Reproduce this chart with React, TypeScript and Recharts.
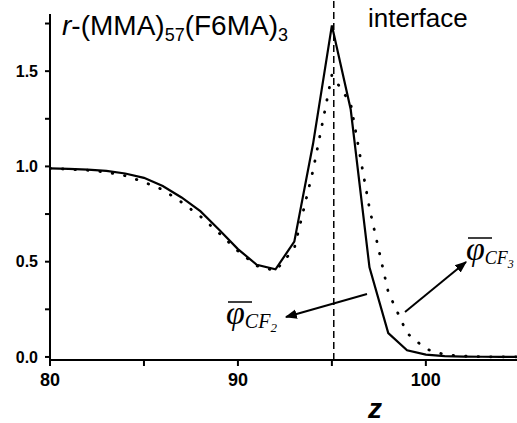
import { LineChart, Line, XAxis, YAxis, ReferenceLine } from 'recharts'

const zValues = [80, 81, 82, 83, 84, 85, 86, 87, 88, 89, 90, 91, 92, 93, 94, 95, 96, 97, 98, 99, 100, 101, 102, 103, 104, 105]
const phiCF2 = [0.99, 0.987, 0.983, 0.977, 0.963, 0.94, 0.897, 0.837, 0.765, 0.668, 0.566, 0.484, 0.46, 0.605, 1.12, 1.74, 1.3, 0.47, 0.125, 0.035, 0.012, 0.004, 0.002, 0.001, 0, 0]
const phiCF3 = [0.99, 0.985, 0.98, 0.97, 0.951, 0.918, 0.878, 0.812, 0.738, 0.65, 0.556, 0.478, 0.452, 0.57, 0.98, 1.48, 1.33, 0.78, 0.34, 0.125, 0.042, 0.012, 0.004, 0.001, 0, 0]
const xTicks = [80, 85, 90, 95, 100]
const xLabels = [80, 90, 100]
const yTicks = [0, 0.25, 0.5, 0.75, 1.0, 1.25, 1.5, 1.75]
const yLabels = [0, 0.5, 1.0, 1.5]
const interfaceZ = 95.1

const data = zValues.map((z, i) => ({ z, cf2: phiCF2[i], cf3: phiCF3[i] }))

const tickFont = { fill: '#000', fontWeight: 'bold', fontFamily: 'Arial, Liberation Sans', }

export default function App() {
  return (
    <div style={{ position: 'absolute', left: 0, top: 0, width: 517, height: 423, background: '#fff' }}>
      <LineChart width={517} height={423} data={data} margin={{ top: 14, right: 0, left: 0, bottom: 0 }}>
        <XAxis
          dataKey="z"
          type="number"
          domain={[80, 104.85]}
          allowDataOverflow
          ticks={xTicks}
          tickFormatter={(v) => (xLabels.includes(v) ? String(v) : '')}
          height={63}
          tickSize={6}
          tickMargin={7}
          stroke="#000"
          strokeWidth={2}
          tick={{ ...tickFont, fontSize: 18 }}
        />
        <YAxis
          type="number"
          domain={[-0.016, 1.8]}
          allowDataOverflow
          ticks={yTicks}
          tickFormatter={(v) => (yLabels.includes(v) ? v.toFixed(1) : '')}
          width={50}
          tickSize={5}
          tickMargin={7}
          stroke="#000"
          strokeWidth={2}
          tick={{ ...tickFont, fontSize: 16 }}
        />
        <ReferenceLine
          segment={[{ x: interfaceZ, y: -0.016 }, { x: interfaceZ, y: 1.875 }]}
          ifOverflow="visible"
          stroke="#000"
          strokeWidth={1.5}
          strokeDasharray="7 4"
        />
        <Line
          dataKey="cf3"
          type="linear"
          stroke="#000"
          strokeWidth={2.8}
          strokeDasharray="0.5 12"
          strokeLinecap="round"
          dot={false}
          isAnimationActive={false}
        />
        <Line
          dataKey="cf2"
          type="linear"
          stroke="#000"
          strokeWidth={2.2}
          dot={false}
          isAnimationActive={false}
        />
      </LineChart>
      <svg width={517} height={423} style={{ position: 'absolute', left: 0, top: 0, pointerEvents: 'none' }}>
        <defs>
          <marker id="arr" viewBox="0 0 10 10" refX="9" refY="5" markerWidth="6" markerHeight="6" orient="auto">
            <path d="M0,1 L10,5 L0,9 z" fill="#000" />
          </marker>
        </defs>
        <text x={62} y={35} fontFamily="Arial, Liberation Sans" fontSize={28} fill="#000">
          <tspan fontStyle="italic">r</tspan>
          <tspan>-(MMA)</tspan>
          <tspan fontSize={18} dy={6}>57</tspan>
          <tspan dy={-6}>(F6MA)</tspan>
          <tspan fontSize={18} dy={6}>3</tspan>
        </text>
        <text x={368} y={27} fontFamily="Arial, Liberation Sans" fontSize={26} fill="#000">interface</text>
        <text x={375} y={418} fontFamily="Arial, Liberation Sans" fontSize={28} fontWeight="bold" fontStyle="italic" fill="#000" textAnchor="middle">z</text>

        <line x1={367} y1={294} x2={286} y2={317} stroke="#000" strokeWidth={2} markerEnd="url(#arr)" />
        <line x1={405} y1={312} x2={466} y2={262} stroke="#000" strokeWidth={2} markerEnd="url(#arr)" />

        <line x1={228} y1={302} x2={252} y2={302} stroke="#000" strokeWidth={1.5} />
        <text x={226} y={324} fontFamily="Liberation Serif, Times New Roman" fontSize={34} fontStyle="italic" fill="#000">
          φ
          <tspan fontSize={20} dy={4}>CF</tspan>
          <tspan fontSize={13} dy={4}>2</tspan>
        </text>
        <line x1={468} y1={238} x2={492} y2={238} stroke="#000" strokeWidth={1.5} />
        <text x={466} y={260} fontFamily="Liberation Serif, Times New Roman" fontSize={34} fontStyle="italic" fill="#000">
          φ
          <tspan fontSize={18} dy={4}>CF</tspan>
          <tspan fontSize={12} dy={4}>3</tspan>
        </text>
      </svg>
    </div>
  )
}
